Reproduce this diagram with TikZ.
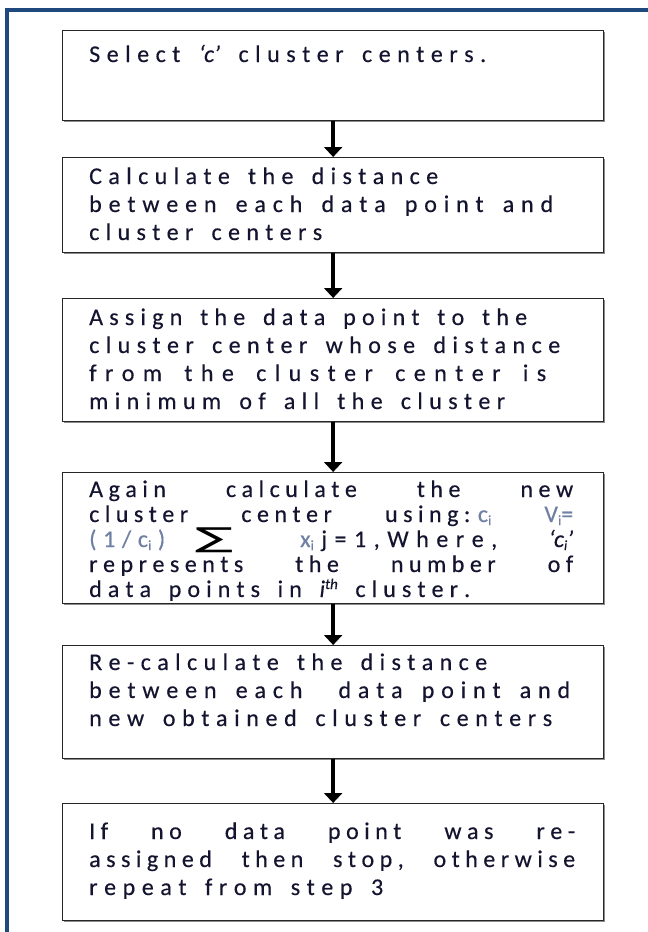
\documentclass[tikz,border=0pt]{standalone}
\usepackage{fontspec}
\usepackage{graphicx}
\setmainfont{Carlito}[FakeBold=0.35]
\newfontfamily\symf{DejaVu Sans}
\usetikzlibrary{arrows.meta,shadows}
\definecolor{frameblue}{HTML}{1F497D}
\definecolor{txtc}{HTML}{141430}
\definecolor{mathc}{HTML}{7080A4}

\ExplSyntaxOn
\NewDocumentCommand\spreadto{m m}{
  \hbox to #1 {
    \seq_set_split:Nnn \l_tmpa_seq {~} {#2}
    \seq_map_indexed_inline:Nn \l_tmpa_seq
      { \int_compare:nNnT {##1} > {1} { \c_space_tl \hfil }
        \tl_map_inline:nn {##2} { ####1 \hfil } }
    \unskip
  }
}
\NewDocumentCommand\justto{O{5.5pt} m m}{
  \hbox to #2 {
    \seq_set_split:Nnn \l_tmpa_seq {~} {#3}
    \seq_map_indexed_inline:Nn \l_tmpa_seq
      { \int_compare:nNnT {##1} > {1} { \c_space_tl \hfill }
        \tl_map_inline:nn {##2} { ####1 \kern #1 } \unkern }
  }
}
\ExplSyntaxOff

\newcommand\sbi{\raisebox{-3pt}{\fontsize{14}{14}\selectfont i}}
\newcommand\qc{{\itshape ‘c’}}
\newcommand\mci{\kern2pt{\color{mathc}c\sbi}}
\newcommand\mVi{{\color{mathc}V\sbi=}}
\newcommand\csub{c\sbi}
\newcommand\xsub{{\color{mathc}x\sbi}}
\newcommand\qci{{\itshape ‘c\sbi’}}
\newcommand\ith{{\itshape i\raisebox{8pt}{\fontsize{15}{15}\selectfont th}}}
\newcommand\bigsum{\raisebox{-6pt}{\resizebox*{38pt}{25pt}{\raisebox{\depth}{\color{black}\symf ∑}}}}

\begin{document}
\begin{tikzpicture}[x=1pt,y=-1pt,
  box/.style={draw=black!85, line width=1.3pt, fill=white, anchor=north west,
    inner sep=0pt, minimum width=541pt,
    drop shadow={shadow xshift=1.8pt, shadow yshift=-1.8pt, fill=black!45, opacity=1}},
  txt/.style={anchor=base west, inner sep=0pt, text=txtc, font=\fontsize{24}{28}\selectfont},
  arr/.style={line width=3.5pt, black, -{Triangle[width=18pt,length=10pt]}}]
\useasboundingbox (0,0) rectangle (648,932);
\fill[white] (0,0) rectangle (648,932);
\draw[frameblue, line width=3.5pt, line join=miter] (6.75,932) -- (6.75,10) -- (648,10);

\node[box, minimum height=90pt]  (b1) at (62,30)  {};
\node[box, minimum height=95pt]  (b2) at (62,157) {};
\node[box, minimum height=123pt] (b3) at (62,298) {};
\node[box, minimum height=131pt] (b4) at (62,472) {};
\node[box, minimum height=113pt] (b5) at (62,645) {};
\node[box, minimum height=117pt] (b6) at (62,803) {};

\draw[arr] (b1.south) -- (b2.north);
\draw[arr] (b2.south) -- (b3.north);
\draw[arr] (b3.south) -- (b4.north);
\draw[arr] (b4.south) -- (b5.north);
\draw[arr] (b5.south) -- (b6.north);

\node[txt] (t1) at (89,62) {\vtop{\spreadto{397pt}{Select {\qc} cluster centers.}}};

\node[txt] (t2) at (89,184) {\vtop{\baselineskip=28pt\lineskiplimit=-50pt
  \spreadto{349pt}{Calculate the distance}
  \spreadto{464pt}{between each data point and}
  \spreadto{233pt}{cluster centers}}};

\node[txt] (t3) at (89,325) {\vtop{\baselineskip=28pt\lineskiplimit=-50pt
  \spreadto{438pt}{Assign the data point to the}
  \spreadto{471pt}{cluster center whose distance}
  \spreadto{457pt}{from the cluster center is}
  \spreadto{416pt}{minimum of all the cluster}}};

\node[txt] (t4) at (89,497) {\vtop{\baselineskip=25pt\lineskiplimit=-50pt
  \justto{484pt}{Again calculate the new}
  \justto{484pt}{cluster center using:{\mci} {\mVi}}
  \hbox to 484pt{\rlap{\color{mathc}\spreadto{76pt}{(1/{\csub})}}\hskip106pt\rlap{\bigsum}\hskip105pt\rlap{\spreadto{197pt}{{\xsub}j=1,Where,}}\hfill\qci}
  \justto{484pt}{represents the number of}
  \spreadto{381pt}{data points in {\ith} cluster.}}};

\node[txt] (t5) at (89,670) {\vtop{\baselineskip=28pt\lineskiplimit=-50pt
  \spreadto{398pt}{Re-calculate the distance}
  \spreadto{481pt}{between each{\hskip10pt} data point and}
  \spreadto{463pt}{new obtained cluster centers}}};

\node[txt] (t6) at (89,839) {\vtop{\baselineskip=28pt\lineskiplimit=-50pt
  \justto{486pt}{If no data point was re-}
  \justto{486pt}{assigned then stop, otherwise}
  \spreadto{294pt}{repeat from step 3}}};
\end{tikzpicture}
\end{document}
